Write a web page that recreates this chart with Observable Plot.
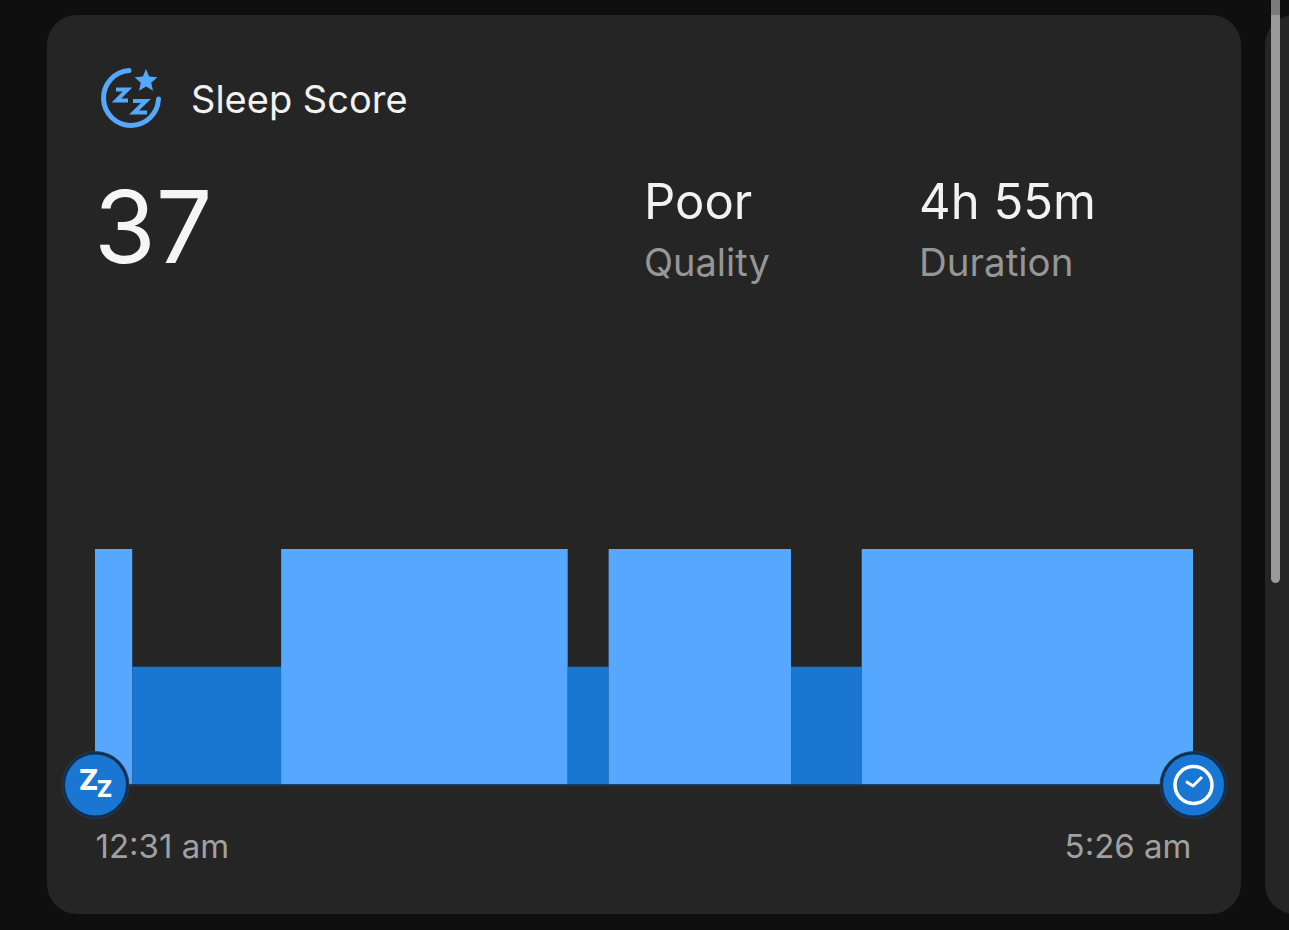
<!DOCTYPE html>
<html>
<head>
<meta charset="utf-8">
<script src="https://cdn.jsdelivr.net/npm/d3@7"></script>
<script src="https://cdn.jsdelivr.net/npm/@observablehq/plot@0.6"></script>
<style>
html,body{margin:0;padding:0;width:1289px;height:930px;overflow:hidden;background:#0f0f0f;font-family:Inter,sans-serif}
.abs{position:absolute;white-space:nowrap;line-height:1}
#card{left:47px;top:15px;width:1194px;height:899px;background:#252525;border-radius:30px}
#card2{left:1265px;top:15px;width:60px;height:899px;background:#252525;border-radius:30px}
#bar{left:1271px;top:15px;width:9px;height:568px;background:#9a9a9a;border-radius:0 0 5px 5px}
#bar0{left:1271px;top:0;width:9px;height:15px;background:#7b7b7b}
#chart{left:0;top:0}
</style>
</head>
<body>
<div class="abs" id="card"></div>
<div class="abs" id="card2"></div>
<div class="abs" id="bar0"></div>
<div class="abs" id="bar"></div>
<svg class="abs" style="left:95px;top:62px" width="75" height="75" viewBox="0 0 75 75">
  <path d="M 34 8.5 A 27.5 27.5 0 1 0 63.5 37" fill="none" stroke="#55a8fd" stroke-width="5" stroke-linecap="round"/>
  <path d="M51 7 L54.2 14.6 L62.4 15.3 L56.2 20.7 L58 28.7 L51 24.5 L44 28.7 L45.8 20.7 L39.6 15.3 L47.8 14.6 Z" fill="#55a8fd"/>
  <path d="M21 27.5 H32.5 L21.5 38.5 H33" fill="none" stroke="#55a8fd" stroke-width="4"/>
  <path d="M38 39 H51 L39 50.5 H52" fill="none" stroke="#55a8fd" stroke-width="4"/>
</svg>
<div class="abs" style="left:191px;top:80px;font-size:38px;color:#f2f2f2">Sleep Score</div>
<div class="abs" style="left:94px;top:177px;font-size:100px;font-weight:400;color:#f5f5f5">37</div>
<div class="abs" style="left:644px;top:177px;font-size:49px;color:#f2f2f2">Poor</div>
<div class="abs" style="left:644px;top:243px;font-size:38px;color:#969696">Quality</div>
<div class="abs" style="left:919px;top:177px;font-size:49px;color:#f2f2f2">4h 55m</div>
<div class="abs" style="left:919px;top:243px;font-size:38.5px;color:#969696">Duration</div>
<div id="host"></div>
<svg class="abs" style="left:1173px;top:764px" width="40" height="40" viewBox="0 0 40 40">
  <path d="M13 17.5 L20 22 L29 13" fill="none" stroke="#fff" stroke-width="3" stroke-linejoin="round"/>
</svg>
<script>
// Sleep stages, in order, with their length in minutes
const stages = ["Restful","Restless","Restful","Restless","Restful","Restless","Restful"];
const minutes = [10,40,77,11,49,19,89];
const levels = [2,1,2,1,2,1,2];
const stageNames = ["Restful","Restless"];
const stageColors = ["#55a8fd","#1976d2"];
const timeLabels = ["12:31 am","5:26 am"];
const totalMinutes = 295;

let t = 0;
const rows = stages.map((s,i)=>{const r={stage:s,x1:t,x2:t+minutes[i],level:levels[i]};t+=minutes[i];return r;});
const ends = [{x:0},{x:totalMinutes}];

const plot = Plot.plot({
  width:1289,height:930,
  marginLeft:95,marginRight:96,marginTop:549,marginBottom:145.5,
  x:{domain:[0,totalMinutes],axis:null},
  y:{domain:[0,2],axis:null},
  color:{domain:stageNames,range:stageColors},
  style:{background:"transparent",overflow:"visible",fontFamily:"Inter,sans-serif"},
  marks:[
    Plot.rectY(rows,{x1:"x1",x2:"x2",y1:0,y2:"level",fill:"stage"}),
    Plot.ruleY([0],{stroke:"#14395f",strokeWidth:1.5}),
    Plot.dot(ends,{x:"x",y:0,r:33.5,fill:"#0f2f52",stroke:"#2f3b47",strokeWidth:.8}),
    Plot.dot(ends,{x:"x",y:0,r:30.5,fill:"#1976d2"}),
    Plot.dot([totalMinutes],{x:d=>d,y:0,r:18.5,fill:"none",stroke:"#fff",strokeWidth:3.5}),
    Plot.text(["Z"],{x:0,y:0,text:d=>d,dx:-7,dy:-4,fontSize:29,fontWeight:800,fill:"#fff"}),
    Plot.text(["Z"],{x:0,y:0,text:d=>d,dx:9,dy:5,fontSize:23,fontWeight:800,fill:"#fff"}),
    Plot.text([timeLabels[0]],{x:0,y:0,text:d=>d,textAnchor:"start",dy:62,fontSize:33,fill:"#a0a0a0"}),
    Plot.text([timeLabels[1]],{x:totalMinutes,y:0,text:d=>d,textAnchor:"end",dx:-2,dy:62,fontSize:33,fill:"#a0a0a0"})
  ]
});
plot.setAttribute("class",(plot.getAttribute("class")||"")+" abs");
plot.id="chart";
document.getElementById("host").appendChild(plot);
</script>
</body>
</html>
